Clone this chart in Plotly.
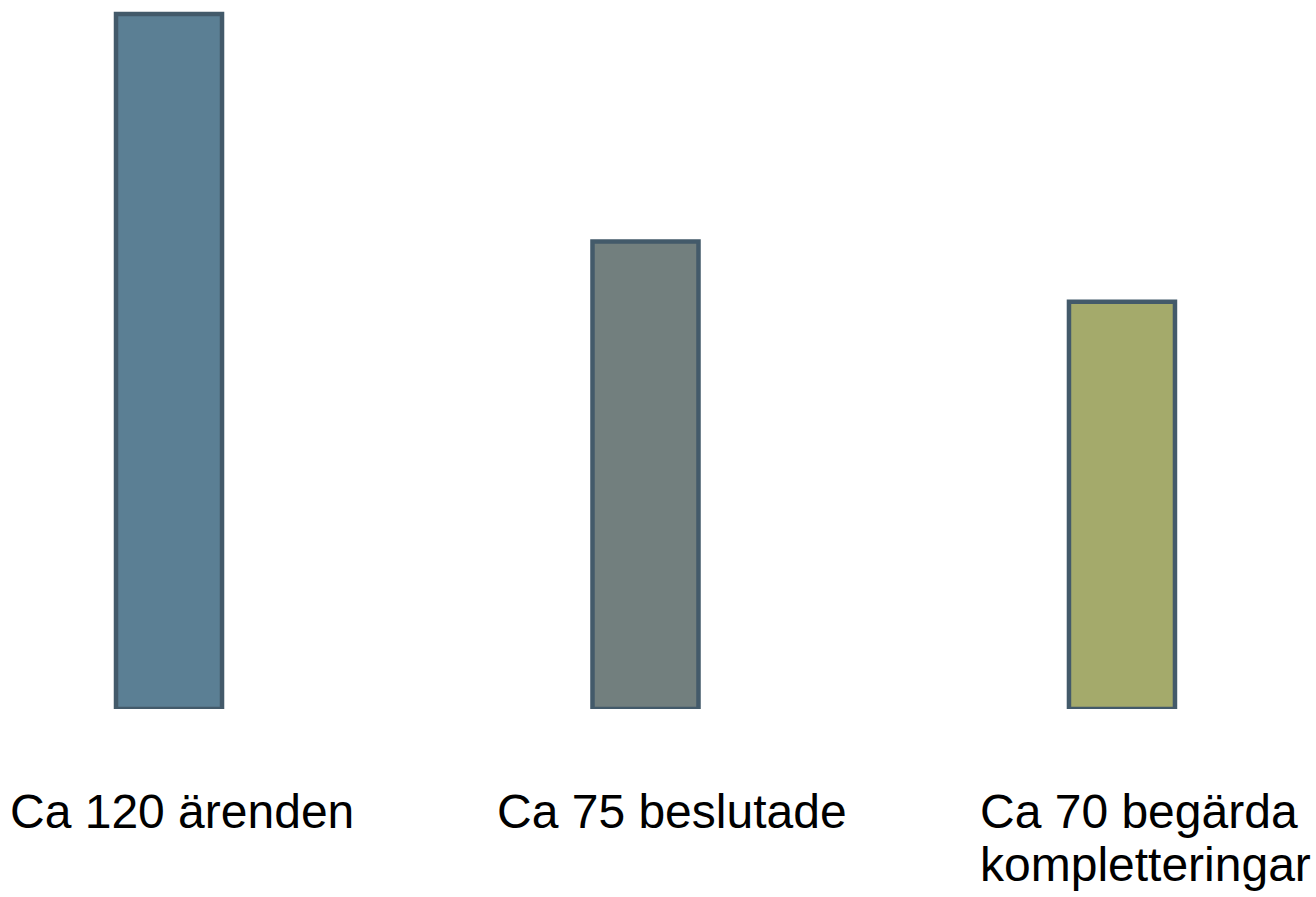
import plotly.graph_objects as go

categories = ["Ca 120 ärenden", "Ca 75 beslutade", "Ca 70 begärda"]
values = [120, 80.7, 70.3]
fill_colors = ["#5b7f94", "#727f7e", "#a4aa6b"]
label_lines = [["Ca 120 ärenden"], ["Ca 75 beslutade"], ["Ca 70 begärda", "kompletteringar"]]
label_shift = [-161, -150, -144]

fig = go.Figure()
fig.add_trace(go.Bar(
    x=categories, y=values, width=0.2225,
    marker=dict(color=fill_colors, line=dict(color="#435a6a", width=4.5)),
    hoverinfo="skip",
))

annotations = []
for cat, lines, xs in zip(categories, label_lines, label_shift):
    for i, line in enumerate(lines):
        annotations.append(dict(
            x=cat, xref="x", y=0, yref="paper", xanchor="left", yanchor="top",
            xshift=xs, yshift=-74 - 53 * i, text=line, showarrow=False,
            font=dict(family="Liberation Sans, Arial, sans-serif", size=48, color="#000000"),
        ))

fig.update_layout(
    width=1316, height=897,
    margin=dict(l=0, r=0, t=0, b=188),
    plot_bgcolor="white", paper_bgcolor="white",
    showlegend=False,
    xaxis=dict(visible=False, range=[-0.3547, 2.4072]),
    yaxis=dict(visible=False, range=[0, 122.4]),
    annotations=annotations,
)
fig.write_html(
    "out.html",
    config={"displayModeBar": False},
    post_script="document.body.style.margin='0';document.body.style.overflow='hidden';",
)
